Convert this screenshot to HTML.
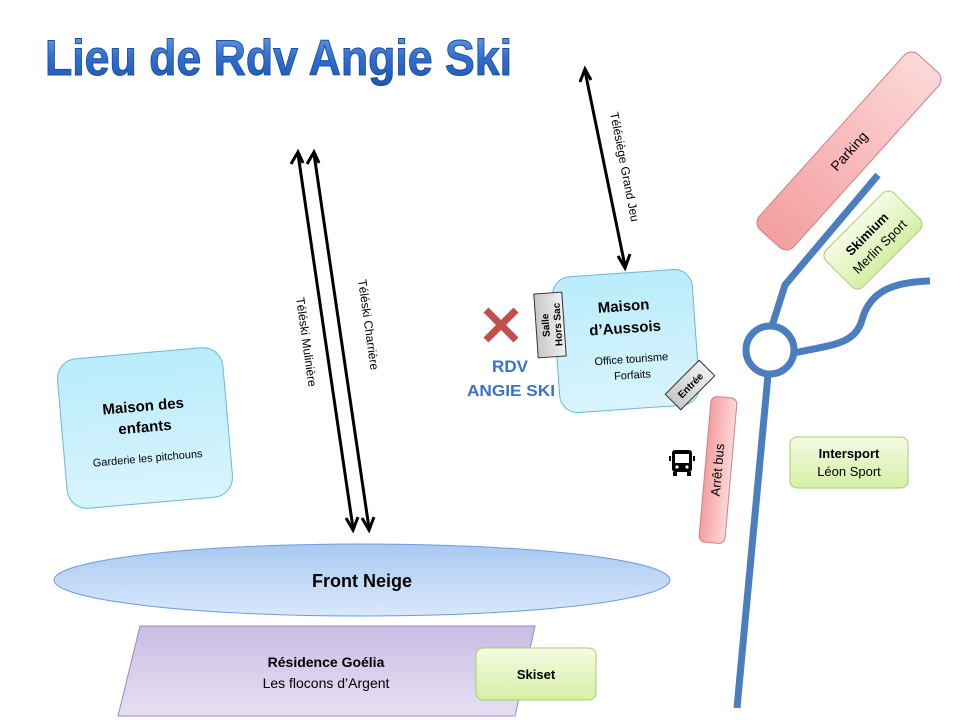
<!DOCTYPE html>
<html><head><meta charset="utf-8"><style>
html,body{margin:0;padding:0;background:#fff;}
svg{display:block;font-family:"Liberation Sans",sans-serif;}
</style></head><body>
<svg width="960" height="720" viewBox="0 0 960 720" xmlns="http://www.w3.org/2000/svg">
<defs>
<linearGradient id="tg" x1="0" y1="0" x2="0" y2="1"><stop offset="0" stop-color="#6fa3e8"/><stop offset="0.5" stop-color="#2f6ed0"/><stop offset="1" stop-color="#1f56b0"/></linearGradient>
<linearGradient id="bl" x1="0" y1="0" x2="0" y2="1"><stop offset="0" stop-color="#b9ecfb"/><stop offset="1" stop-color="#d9f4fd"/></linearGradient>
<linearGradient id="el" x1="0" y1="0" x2="0" y2="1"><stop offset="0" stop-color="#a9c9f1"/><stop offset="1" stop-color="#d9e8fb"/></linearGradient>
<linearGradient id="pk" x1="0" y1="0" x2="1" y2="0"><stop offset="0" stop-color="#f49ea0"/><stop offset="1" stop-color="#fcd8d8"/></linearGradient>
<linearGradient id="gr" x1="0" y1="0" x2="0" y2="1"><stop offset="0" stop-color="#f5fbe3"/><stop offset="1" stop-color="#d5efa6"/></linearGradient>
<linearGradient id="pu" x1="0" y1="0" x2="0" y2="1"><stop offset="0" stop-color="#c9bde3"/><stop offset="1" stop-color="#e7e0f3"/></linearGradient>
<linearGradient id="gy" x1="0" y1="0" x2="1" y2="0"><stop offset="0" stop-color="#c8c8c8"/><stop offset="1" stop-color="#f0f0f0"/></linearGradient>
</defs>

<text x="45" y="75" font-size="50" font-weight="bold" fill="url(#tg)" stroke="#1d4f9e" stroke-width="1" textLength="467" lengthAdjust="spacingAndGlyphs">Lieu de Rdv Angie Ski</text>

<g stroke="#000" stroke-width="3" fill="none">
<line x1="298" y1="154" x2="353" y2="528"/>
<line x1="314" y1="154" x2="369" y2="528"/>
<polyline points="291,164 298,152 303,163"/>
<polyline points="307,164 314,152 319,163"/>
<polyline points="346,518 353,530 358,517"/>
<polyline points="362,518 369,530 374,517"/>
<line x1="585" y1="71" x2="625" y2="266"/>
<polyline points="580,82 585,69 591,80"/>
<polyline points="618,256 625,268 630,254"/>
</g>
<text font-size="12" transform="translate(296,298) rotate(82)">Téléski Mulinière</text>
<text font-size="12" transform="translate(358,280) rotate(82)">Téléski Charrière</text>
<text font-size="12" transform="translate(610,113) rotate(79)">Télésiège Grand Jeu</text>

<g stroke="#4a7ebf" stroke-width="7" fill="none">
<line x1="737" y1="708" x2="768" y2="375"/>
<circle cx="770" cy="350" r="24"/>
<polyline points="772,326 785,285 878,175"/>
<path d="M794,353 C830,345 855,345 862,320 C870,290 895,282 930,281"/>
</g>

<g transform="translate(849,151) rotate(-48)">
<rect x="-118" y="-23" width="236" height="46" rx="10" fill="url(#pk)" stroke="#d08080"/>
<text x="0" y="5" font-size="14" text-anchor="middle">Parking</text>
</g>
<g transform="translate(873,240) rotate(-45)">
<rect x="-48" y="-26" width="96" height="52" rx="8" fill="url(#gr)" stroke="#a8cc6a"/>
<text x="0" y="-4" font-size="13" font-weight="bold" text-anchor="middle">Skimium</text>
<text x="0" y="14" font-size="13" text-anchor="middle">Merlin Sport</text>
</g>

<g transform="translate(626,341) rotate(-4)">
<rect x="-70" y="-68" width="140" height="136" rx="18" fill="url(#bl)" stroke="#6ab8d8"/>
<text x="0" y="-30" font-size="15" font-weight="bold" text-anchor="middle">Maison</text>
<text x="0" y="-8" font-size="15" font-weight="bold" text-anchor="middle">d’Aussois</text>
<text x="4" y="22" font-size="11" text-anchor="middle">Office tourisme</text>
<text x="4" y="38" font-size="11" text-anchor="middle">Forfaits</text>
</g>
<g transform="translate(550,325) rotate(-4)">
<rect x="-14" y="-32" width="28" height="64" fill="url(#gy)" stroke="#333"/>
<text font-size="10" font-weight="bold" transform="translate(-1,0) rotate(-90)" text-anchor="middle">Salle</text>
<text font-size="10" font-weight="bold" transform="translate(11,0) rotate(-90)" text-anchor="middle">Hors Sac</text>
</g>
<g transform="translate(690,385) rotate(-45)">
<rect x="-24" y="-11" width="48" height="22" fill="url(#gy)" stroke="#333"/>
<text x="0" y="4" font-size="10" font-weight="bold" text-anchor="middle">Entrée</text>
</g>

<g stroke="#c0504d" stroke-width="7">
<line x1="486" y1="310" x2="516" y2="340"/><line x1="516" y1="310" x2="486" y2="340"/>
</g>
<text x="510" y="372" font-size="17" font-weight="bold" fill="#3c72c4" text-anchor="middle">RDV</text>
<text x="511" y="396" font-size="16" font-weight="bold" fill="#3c72c4" text-anchor="middle" textLength="88" lengthAdjust="spacingAndGlyphs">ANGIE SKI</text>

<g transform="translate(718,470) rotate(5)">
<rect x="-13" y="-73" width="26" height="146" rx="6" fill="url(#pk)" stroke="#d08080"/>
<text font-size="13" transform="translate(4,0) rotate(-90)" text-anchor="middle">Arrêt bus</text>
</g>
<g transform="translate(682,462)">
<rect x="-10" y="-12" width="20" height="22" rx="3" fill="#000"/>
<rect x="-7" y="-8" width="14" height="9" fill="#fff"/>
<circle cx="-5" cy="5" r="1.6" fill="#fff"/><circle cx="5" cy="5" r="1.6" fill="#fff"/>
<rect x="-9" y="10" width="4" height="4" fill="#000"/><rect x="5" y="10" width="4" height="4" fill="#000"/>
<rect x="-13" y="-6" width="2" height="5" fill="#000"/><rect x="11" y="-6" width="2" height="5" fill="#000"/>
</g>

<rect x="790" y="437" width="118" height="51" rx="7" fill="url(#gr)" stroke="#a8cc6a"/>
<text x="849" y="458" font-size="13" font-weight="bold" text-anchor="middle">Intersport</text>
<text x="849" y="476" font-size="13" text-anchor="middle">Léon Sport</text>

<g transform="translate(145,428) rotate(-5)">
<rect x="-83" y="-75" width="166" height="150" rx="20" fill="url(#bl)" stroke="#6ab8d8"/>
<text x="0" y="-17" font-size="15" font-weight="bold" text-anchor="middle">Maison des</text>
<text x="0" y="4" font-size="15" font-weight="bold" text-anchor="middle">enfants</text>
<text x="0" y="34" font-size="11" text-anchor="middle">Garderie les pitchouns</text>
</g>

<ellipse cx="362" cy="580" rx="308" ry="36" fill="url(#el)" stroke="#6a9be0"/>
<text x="362" y="587" font-size="18" font-weight="bold" text-anchor="middle">Front Neige</text>

<polygon points="140,626 535,626 515,716 118,716" fill="url(#pu)" stroke="#9a88c8"/>
<text x="326" y="667" font-size="14" font-weight="bold" text-anchor="middle">Résidence Goélia</text>
<text x="326" y="688" font-size="14" text-anchor="middle">Les flocons d’Argent</text>
<rect x="476" y="648" width="120" height="52" rx="7" fill="url(#gr)" stroke="#a8cc6a"/>
<text x="536" y="679" font-size="13" font-weight="bold" text-anchor="middle">Skiset</text>
</svg>
</body></html>
